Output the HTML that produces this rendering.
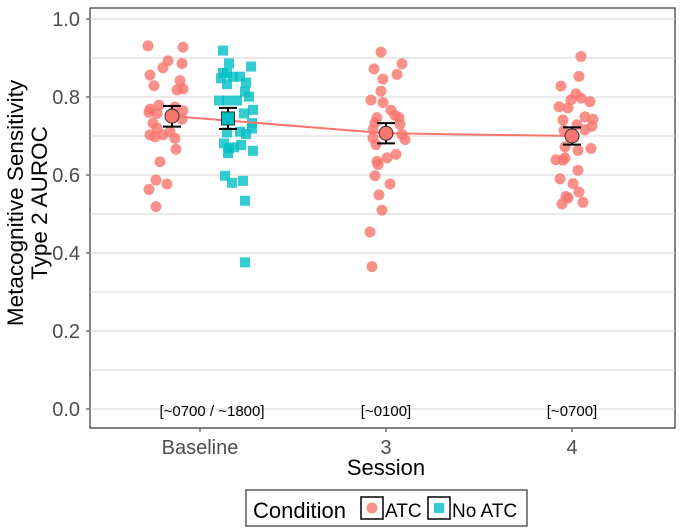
<!DOCTYPE html>
<html><head><meta charset="utf-8"><style>
body{margin:0;background:#fff;font-family:"Liberation Sans",sans-serif}
</style></head><body>
<svg id="c" width="685" height="527" xmlns="http://www.w3.org/2000/svg" style="font-family:'Liberation Sans',sans-serif">
<rect x="90" y="8" width="585" height="420" fill="#fff" stroke="#333" stroke-width="1.2"/>
<g id="grid"></g><g id="marks"></g>
<text x="212" y="416" font-size="15" text-anchor="middle">[~0700 / ~1800]</text>
<text x="386" y="416" font-size="15" text-anchor="middle">[~0100]</text>
<text x="572" y="416" font-size="15" text-anchor="middle">[~0700]</text>
<text x="386" y="475" font-size="22" text-anchor="middle">Session</text>
<text transform="translate(23,203) rotate(-90)" font-size="22.5" text-anchor="middle"><tspan x="0" y="0">Metacognitive Sensitivity</tspan><tspan x="0" y="24">Type 2 AUROC</tspan></text>
<g>
<rect x="246" y="490" width="281" height="36" fill="#fff" stroke="#333" stroke-width="1.2"/>
<text x="253" y="518" font-size="22">Condition</text>
<rect x="361" y="497" width="22" height="22" fill="#fff" stroke="#000" stroke-width="1.5"/>
<circle cx="372" cy="508" r="5.5" fill="#F8766D" opacity="0.8"/>
<text x="385" y="517" font-size="19">ATC</text>
<rect x="428" y="497" width="22" height="22" fill="#fff" stroke="#000" stroke-width="1.5"/>
<rect x="434" y="503" width="10" height="10" fill="#00BFC4" opacity="0.8"/>
<text x="452" y="517" font-size="19">No ATC</text>
</g>
</svg>
<script>
const categories=["Baseline","3","4"];
const yTicks=[0,0.2,0.4,0.6,0.8,1.0];
const baseAtc=[0.931,0.928,0.893,0.875,0.886,0.856,0.842,0.829,0.818,0.821,0.779,0.769,0.761,0.758,0.774,0.765,0.743,0.733,0.720,0.703,0.698,0.703,0.711,0.694,0.666,0.634,0.587,0.563,0.577,0.519];
const baseAtcJit=[-24,11,-4,-9,10,-22,8,-18,5,11,-13,-22,-23,-15,3,11,10,-19,-15,-22,-17,-9,-2,3,4,-12,-16,-23,-5,-16];
const baseNo=[0.919,0.886,0.878,0.862,0.848,0.861,0.852,0.852,0.837,0.833,0.814,0.801,0.791,0.791,0.791,0.767,0.758,0.733,0.719,0.711,0.705,0.709,0.681,0.668,0.671,0.677,0.656,0.662,0.598,0.580,0.585,0.534,0.376];
const baseNoJit=[-5,1,23,-5,-7,-1,5,12,18,-1,17,21,-9,-1,9,25,16,24,24,12,18,-1,-4,1,6,13,0,25,-3,4,15,17,17];
const s3=[0.915,0.872,0.885,0.846,0.858,0.815,0.792,0.786,0.766,0.747,0.753,0.747,0.734,0.730,0.717,0.695,0.678,0.704,0.691,0.635,0.627,0.644,0.653,0.598,0.577,0.549,0.510,0.454,0.365];
const s3Jit=[-5,-12,16,-3,11,-5,-15,-3,5,-9,9,13,-11,14,-13,-13,-10,16,19,-9,-8,1,10,-11,4,-7,-4,-16,-14];
const s4=[0.904,0.853,0.828,0.808,0.793,0.797,0.788,0.775,0.772,0.749,0.743,0.741,0.729,0.725,0.714,0.716,0.672,0.663,0.668,0.639,0.644,0.638,0.612,0.590,0.578,0.556,0.545,0.541,0.526,0.530];
const s4Jit=[9,7,-11,4,-1,9,18,-13,-4,13,21,-9,5,20,-8,13,-7,6,19,-16,-7,-9,6,-12,1,7,-6,-4,-10,11];
const means=[0.751,0.745,0.707,0.700];
const ciLo=[0.724,0.718,0.681,0.678];
const ciHi=[0.777,0.772,0.733,0.722];
const NS="http://www.w3.org/2000/svg";
const svg=document.getElementById('c'),grid=document.getElementById('grid'),marks=document.getElementById('marks');
const y=v=>409-v*390;
const xc=i=>200+i*186;
function mk(t,a,p){const e=document.createElementNS(NS,t);for(const k in a)e.setAttribute(k,a[k]);(p||marks).appendChild(e);return e;}
for(let v=0;v<=1.0001;v+=0.1){const l=mk('line',{x1:90,x2:675,y1:y(v),y2:y(v),stroke:'#d4d4d4','stroke-width':1.1},grid);

}
yTicks.forEach(v=>{const t=mk('text',{x:80,y:y(v)+7,'font-size':20,fill:'#4d4d4d','text-anchor':'end'},svg);t.textContent=v.toFixed(1);


mk('line',{x1:86,x2:90,y1:y(v),y2:y(v),stroke:'#333'},svg);});
categories.forEach((c,i)=>{const t=mk('text',{x:xc(i),y:454,'font-size':20,fill:'#4d4d4d','text-anchor':'middle'},svg);t.textContent=c;


mk('line',{x1:xc(i),x2:xc(i),y1:428,y2:432,stroke:'#333'},svg);});
const cxs=[172,228,386,572];
function pts(vals,jit,cx,col,sq,name){vals.forEach((v,i)=>{let e;
if(sq)e=mk('rect',{x:cx+jit[i]-5,y:y(v)-5,width:10,height:10,fill:col,opacity:0.8});
else e=mk('circle',{cx:cx+jit[i],cy:y(v),r:5.5,fill:col,opacity:0.8});

});}
pts(baseAtc,baseAtcJit,cxs[0],'#F8766D',false,'point-baseline-atc');
pts(baseNo,baseNoJit,cxs[1],'#00BFC4',true,'point-baseline-no-atc');
pts(s3,s3Jit,cxs[2],'#F8766D',false,'point-session3-atc');
pts(s4,s4Jit,cxs[3],'#F8766D',false,'point-session4-atc');
const atcIdx=[0,2,3];
const ln=mk('polyline',{points:atcIdx.map(i=>cxs[i]+','+y(means[i])).join(' '),fill:'none',stroke:'#F8766D','stroke-width':2});


means.forEach((m,i)=>{const cx=cxs[i];
['v','t','b'].forEach(k=>{const a=k=='v'?{x1:cx,x2:cx,y1:y(ciHi[i]),y2:y(ciLo[i])}:{x1:cx-9,x2:cx+9,y1:y(k=='t'?ciHi[i]:ciLo[i]),y2:y(k=='t'?ciHi[i]:ciLo[i])};
a.stroke='#000';a['stroke-width']=2;const e=mk('line',a);

});
let e;if(i==1)e=mk('rect',{x:cx-6.5,y:y(m)-6.5,width:13,height:13,fill:'#00BFC4',stroke:'#333'});
else e=mk('circle',{cx:cx,cy:y(m),r:7,fill:'#F8766D',stroke:'#333'});

});
</script>
</body></html>
